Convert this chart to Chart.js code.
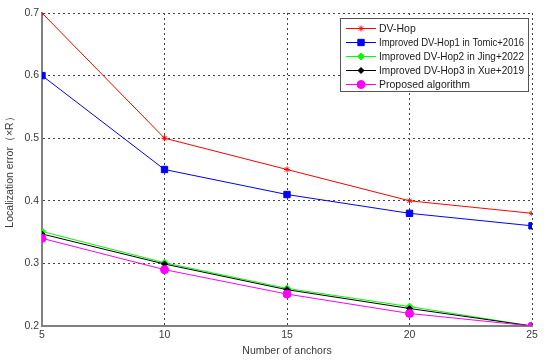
<html>
<head>
<meta charset="utf-8">
<title>Localization error</title>
<script src="https://cdn.jsdelivr.net/npm/chart.js"></script>
<style>
  body { margin: 0; background: #fff; }
  #wrap { width: 550px; height: 361px; position: relative; }
</style>
</head>
<body>
<div id="wrap"><canvas id="graph"></canvas></div>
<script>
// data
const anchors = [5, 10, 15, 20, 25]
const seriesNames = [
  "DV-Hop",
  "Improved DV-Hop1 in Tomic+2016",
  "Improved DV-Hop2 in Jing+2022",
  "Improved DV-Hop3 in Xue+2019",
  "Proposed algorithm"
]
const dvHop = [0.70, 0.50, 0.45, 0.40, 0.38]
const improved1 = [0.60, 0.45, 0.41, 0.38, 0.36]
const improved2 = [0.351, 0.301, 0.260, 0.231, 0.200]
const improved3 = [0.347, 0.299, 0.258, 0.228, 0.200]
const proposed = [0.340, 0.290, 0.251, 0.220, 0.200]
const yTicks = [0.2, 0.3, 0.4, 0.5, 0.6, 0.7]

const colors = ["#ff0000", "#0000ff", "#00ff00", "#000000", "#ff00ff"]
const styles = ["star", "rect", "rectRot", "rectRot", "circle"]
const radii = [3, 4.5, 3.5, 3, 4]
const allValues = [dvHop, improved1, improved2, improved3, proposed]

const datasets = allValues.map((vals, i) => ({
  label: seriesNames[i],
  data: anchors.map((a, j) => ({ x: a, y: vals[j] })),
  borderColor: colors[i],
  backgroundColor: colors[i],
  borderWidth: 1,
  pointStyle: styles[i],
  pointRadius: radii[i],
  pointBorderWidth: 1,
  pointHoverRadius: radii[i],
  order: 4 - i
}))

const font = "Liberation Sans, Arial, sans-serif"
const textColor = "#3a3a3a"

// legend box in the top right of the plot
const boxLegend = {
  id: "boxLegend",
  afterDraw(chart) {
    const ctx = chart.ctx
    const x0 = 340, y0 = 18, w = 188, h = 73
    ctx.save()
    ctx.fillStyle = "#fff"
    ctx.fillRect(x0, y0, w, h)
    ctx.strokeStyle = "#555"
    ctx.lineWidth = 1
    ctx.strokeRect(x0 + 0.5, y0 + 0.5, w, h)
    ctx.font = "10.5px " + font
    ctx.textBaseline = "middle"
    chart.data.datasets.forEach((ds, i) => {
      const y = y0 + 10 + i * 14
      ctx.strokeStyle = ds.borderColor
      ctx.beginPath()
      ctx.moveTo(346, y + 0.5)
      ctx.lineTo(376, y + 0.5)
      ctx.stroke()
      ctx.fillStyle = ds.borderColor
      Chart.helpers.drawPoint(ctx, {
        pointStyle: ds.pointStyle, radius: ds.pointRadius, borderWidth: 1, rotation: 0
      }, 361, y + 0.5)
      ctx.fillStyle = "#1a1a1a"
      // squeeze the long labels a little so they fit the box like the original
      ctx.fillText(ds.label, 379, y + 1, 145)
    })
    ctx.restore()
  }
}

new Chart(document.getElementById("graph"), {
  type: "line",
  data: { datasets: datasets },
  options: {
    responsive: true,
    maintainAspectRatio: false,
    animation: false,
    layout: { padding: { top: 13, right: 18, left: 0, bottom: 0 } },
    plugins: {
      legend: { display: false },
      tooltip: { enabled: false }
    },
    scales: {
      x: {
        type: "linear",
        min: 5,
        max: 25,
        afterFit(s) { s.height = 35 },
        ticks: { stepSize: 5, color: textColor, font: { size: 10.5, family: font }, padding: 3 },
        grid: { color: "#444", lineWidth: 1, drawTicks: false },
        border: { display: true, color: "#808080", width: 2, dash: [2, 3] },
        title: { display: true, text: "Number of anchors", color: textColor, font: { size: 10.5, family: font }, padding: { top: 2 } }
      },
      y: {
        min: 0.2,
        max: 0.7,
        afterFit(s) { s.width = 42 },
        afterBuildTicks(s) { s.ticks = yTicks.map(v => ({ value: v })) },
        ticks: { color: textColor, font: { size: 10.5, family: font }, padding: 3, callback: v => v.toFixed(1) },
        grid: { color: "#444", lineWidth: 1, drawTicks: false },
        border: { display: true, color: "#808080", width: 2, dash: [2, 3] },
        title: { display: true, text: "Localization error（×R）", color: textColor, font: { size: 10.5, family: font }, padding: { bottom: 2 } }
      }
    }
  },
  plugins: [boxLegend]
})
</script>
</body>
</html>
